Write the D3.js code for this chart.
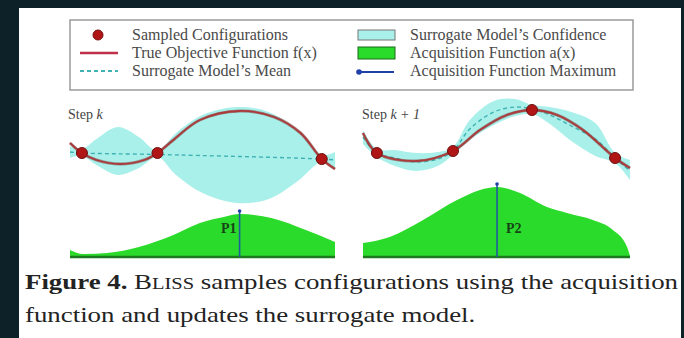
<!DOCTYPE html>
<html>
<head>
<meta charset="utf-8">
<script src="https://cdn.jsdelivr.net/npm/d3@7"></script>
<style>
  body { margin: 0; background: #0d2228; }
  svg { display: block; }
  text { font-family: "Liberation Serif", "DejaVu Serif", serif; }
</style>
</head>
<body>
<svg id="chart" width="684" height="338"></svg>
<script>
// ---- data ----
// Step k panel
const trueXk  = [0, 0.45, 1, 1.9, 2.8, 3.3, 3.9, 4.9, 6.4, 7.7, 8.7, 9.5, 10];
const trueYk  = [0.24, 0.04, -0.1, -0.18, -0.1, 0.04, 0.3, 0.7, 0.88, 0.76, 0.44, -0.08, -0.28];
const sampleXk = [0.45, 3.3, 9.5];
const sampleYk = [0.04, 0.04, -0.08];
const meanXk  = [0, 0.45, 3.3, 9.5, 10];
const meanYk  = [0.06, 0.04, 0.01, -0.08, -0.1];
const bandXk  = [0, 0.45, 1, 1.8, 2.6, 3.3, 4, 5, 6.3, 7.5, 8.6, 9.5, 10];
const bandHik = [0.18, 0.12, 0.32, 0.56, 0.36, 0.08, 0.44, 0.8, 0.96, 0.86, 0.48, 0.0, 0.06];
const bandLok = [-0.06, -0.02, -0.2, -0.4, -0.26, -0.04, -0.4, -0.76, -0.96, -0.88, -0.52, -0.14, -0.26];
const acqXk   = [0, 0.5, 1.4, 2.6, 3.9, 4.9, 5.8, 6.4, 7.6, 8.9, 10];
const acqYk   = [0.14, 0.06, 0.08, 0.2, 0.44, 0.68, 0.8, 0.86, 0.78, 0.54, 0.3];

// Step k+1 panel
const trueXk1  = [0, 0.52, 2.02, 3.37, 4.38, 5.39, 6.33, 7.27, 8.24, 9.44, 10];
const trueYk1  = [0.44, 0.04, -0.12, 0.08, 0.5, 0.8, 0.9, 0.8, 0.5, -0.06, -0.26];
const sampleXk1 = [0.52, 3.37, 6.33, 9.44];
const sampleYk1 = [0.04, 0.08, 0.9, -0.06];
const bandXk1  = [0, 0.52, 1.2, 2.0, 2.8, 3.37, 4.0, 4.9, 5.7, 6.33, 7.0, 7.8, 8.7, 9.44, 10];
const bandHik1 = [0.5, 0.12, 0.1, 0.04, 0.06, 0.16, 0.7, 1.08, 1.12, 1.0, 0.96, 0.86, 0.64, 0.04, -0.1];
const bandLok1 = [0.22, -0.04, -0.22, -0.32, -0.22, 0.0, 0.3, 0.6, 0.78, 0.82, 0.62, 0.28, -0.02, -0.16, -0.5];
const meanYk1  = [0.36, 0.04, -0.06, -0.14, -0.08, 0.08, 0.52, 0.86, 0.96, 0.92, 0.8, 0.58, 0.32, -0.06, -0.32];
const acqXk1   = [0, 1.0, 2.25, 3.52, 4.38, 5.02, 5.88, 6.89, 7.64, 8.61, 9.36, 9.89, 10];
const acqYk1   = [0.28, 0.4, 0.74, 1.14, 1.34, 1.4, 1.28, 1.0, 0.88, 0.74, 0.54, 0.2, 0.02];

const legendLeft  = ["Sampled Configurations", "True Objective Function f(x)", "Surrogate Model\u2019s Mean"];
const legendRight = ["Surrogate Model\u2019s Confidence", "Acquisition Function a(x)", "Acquisition Function Maximum"];
const maxLabels = ["P1", "P2"];

// ---- styles ----
const cBand = "#aaf0ea", cMean = "#3fb3b3", cTrue = "#ad3a3a", cDot = "#b01616";
const cAcq = "#2bdb2b", cBase = "#1e7a1e", cMax = "#1f5c9e";

const svg = d3.select("#chart");

// frame
svg.append("rect").attr("width", 684).attr("height", 338).attr("fill", "#0d2228");
svg.append("rect").attr("x", 19).attr("y", 8).attr("width", 662).attr("height", 330).attr("fill", "#fff");

// ---- legend ----
const legend = svg.append("g");
legend.append("rect")
    .attr("x", 70).attr("y", 20).attr("width", 563).attr("height", 70)
    .attr("fill", "none").attr("stroke", "#9a9a9a").attr("stroke-width", 1.5);

const rowY = d3.scalePoint().domain([0, 1, 2]).range([35, 71]);

legend.selectAll("text.l")
    .data(legendLeft).join("text")
    .attr("x", 132).attr("y", (d, i) => rowY(i) + 5)
    .attr("font-size", 16).attr("fill", "#4a4a4a")
    .text(d => d);
legend.selectAll("text.r")
    .data(legendRight).join("text")
    .attr("x", 410).attr("y", (d, i) => rowY(i) + 5)
    .attr("font-size", 16).attr("fill", "#4a4a4a")
    .text(d => d);

legend.append("circle").attr("cx", 98).attr("cy", rowY(0)).attr("r", 5)
    .attr("fill", cDot).attr("stroke", "#7a1010");
legend.append("line").attr("x1", 80).attr("x2", 118).attr("y1", rowY(1)).attr("y2", rowY(1))
    .attr("stroke", "#c0304a").attr("stroke-width", 2.5);
legend.append("line").attr("x1", 80).attr("x2", 118).attr("y1", rowY(2)).attr("y2", rowY(2))
    .attr("stroke", cMean).attr("stroke-width", 2).attr("stroke-dasharray", "4,3");

legend.append("rect").attr("x", 358).attr("y", rowY(0) - 5).attr("width", 37).attr("height", 10)
    .attr("fill", cBand).attr("stroke", "#777");
legend.append("rect").attr("x", 358).attr("y", rowY(1) - 6).attr("width", 37).attr("height", 12)
    .attr("fill", cAcq).attr("stroke", "#1a6a1a");
legend.append("line").attr("x1", 358).attr("x2", 394).attr("y1", rowY(2) + 1).attr("y2", rowY(2) + 1)
    .attr("stroke", "#2040a8").attr("stroke-width", 2);
legend.append("circle").attr("cx", 359).attr("cy", rowY(2) + 1).attr("r", 2.8).attr("fill", "#2040a8");

// ---- panels ----
const yF = d3.scaleLinear().domain([-1, 1]).range([205, 105]);
const yA = d3.scaleLinear().domain([0, 1]).range([257, 207]);

function drawPanel(p) {
  const x = d3.scaleLinear().domain([0, 10]).range(p.range);
  const g = svg.append("g");
  const smooth = d3.curveCatmullRom.alpha(0.5);

  // confidence band
  const band = d3.area()
      .x((d, i) => x(p.bandX[i]))
      .y0((d, i) => yF(p.bandLo[i]))
      .y1((d, i) => yF(p.bandHi[i]))
      .curve(smooth);
  g.append("path").datum(p.bandX).attr("d", band).attr("fill", cBand);

  // surrogate mean
  const meanLine = d3.line().x((d, i) => x(p.meanX[i])).y(d => yF(d)).curve(smooth);
  g.append("path").datum(p.meanY).attr("d", meanLine)
      .attr("fill", "none").attr("stroke", cMean).attr("stroke-width", 1.4)
      .attr("stroke-dasharray", "4,3");

  // true objective
  const trueLine = d3.line().x((d, i) => x(p.trueX[i])).y(d => yF(d)).curve(smooth);
  g.append("path").datum(p.trueY).attr("d", trueLine)
      .attr("fill", "none").attr("stroke", "#7d4a4a").attr("stroke-width", 3).attr("opacity", 0.6);
  g.append("path").datum(p.trueY).attr("d", trueLine)
      .attr("fill", "none").attr("stroke", cTrue).attr("stroke-width", 1.8);

  // sampled configurations
  g.selectAll("circle.s").data(p.sampleX).join("circle")
      .attr("cx", d => x(d)).attr("cy", (d, i) => yF(p.sampleY[i])).attr("r", 5.5)
      .attr("fill", cDot).attr("stroke", "#6e1010").attr("stroke-width", 1);

  // acquisition function
  const acq = d3.area()
      .x((d, i) => x(p.acqX[i]))
      .y0(yA(0))
      .y1(d => yA(d))
      .curve(d3.curveMonotoneX);
  g.append("path").datum(p.acqY).attr("d", acq).attr("fill", cAcq);
  g.append("line").attr("x1", x(0)).attr("x2", x(10)).attr("y1", yA(0)).attr("y2", yA(0))
      .attr("stroke", cBase).attr("stroke-width", 2.5);

  // maximum
  const iMax = d3.maxIndex(p.acqY);
  const xm = x(p.acqX[iMax]);
  g.append("line").attr("x1", xm).attr("x2", xm).attr("y1", yA(0)).attr("y2", yA(p.acqY[iMax]) - 3)
      .attr("stroke", cMax).attr("stroke-width", 1.6);
  g.append("circle").attr("cx", xm).attr("cy", yA(p.acqY[iMax]) - 3).attr("r", 1.8).attr("fill", "#2040a8");
  g.append("text").attr("x", xm + p.labelDx).attr("y", 233)
      .attr("text-anchor", p.labelDx < 0 ? "end" : "start")
      .attr("font-size", 14).attr("font-weight", "bold")
      .attr("fill", "#164416").text(p.label);

  // step title
  const t = g.append("text").attr("x", p.titleX).attr("y", 119)
      .attr("font-size", 14).attr("fill", "#444");
  t.append("tspan").text("Step ");
  t.append("tspan").attr("font-style", "italic").text(p.title);
}

drawPanel({
  range: [70, 335], trueX: trueXk, trueY: trueYk, sampleX: sampleXk, sampleY: sampleYk,
  meanX: meanXk, meanY: meanYk, bandX: bandXk, bandHi: bandHik, bandLo: bandLok,
  acqX: acqXk, acqY: acqYk, label: maxLabels[0], labelDx: -3, title: "k", titleX: 68
});
drawPanel({
  range: [363, 630], trueX: trueXk1, trueY: trueYk1, sampleX: sampleXk1, sampleY: sampleYk1,
  meanX: bandXk1, meanY: meanYk1, bandX: bandXk1, bandHi: bandHik1, bandLo: bandLok1,
  acqX: acqXk1, acqY: acqYk1, label: maxLabels[1], labelDx: 9, title: "k + 1", titleX: 362
});

// ---- caption ----
const cap1 = svg.append("text").attr("x", 25).attr("y", 289)
    .attr("font-size", 21).attr("fill", "#232323");
cap1.append("tspan").attr("font-weight", "bold").text("Figure 4.");
cap1.append("tspan").text(" B");
cap1.append("tspan").attr("font-size", 16).text("LISS");
cap1.append("tspan").text(" samples configurations using the acquisition");

const cap2 = svg.append("text").attr("x", 25).attr("y", 322)
    .attr("font-size", 21).attr("fill", "#232323")
    .text("function and updates the surrogate model.");

const w1 = cap1.node().getComputedTextLength();
const w2 = cap2.node().getComputedTextLength();
const k = 653 / w1;
cap1.attr("textLength", 653).attr("lengthAdjust", "spacingAndGlyphs");
cap2.attr("textLength", w2 * k).attr("lengthAdjust", "spacingAndGlyphs");
</script>
</body>
</html>
